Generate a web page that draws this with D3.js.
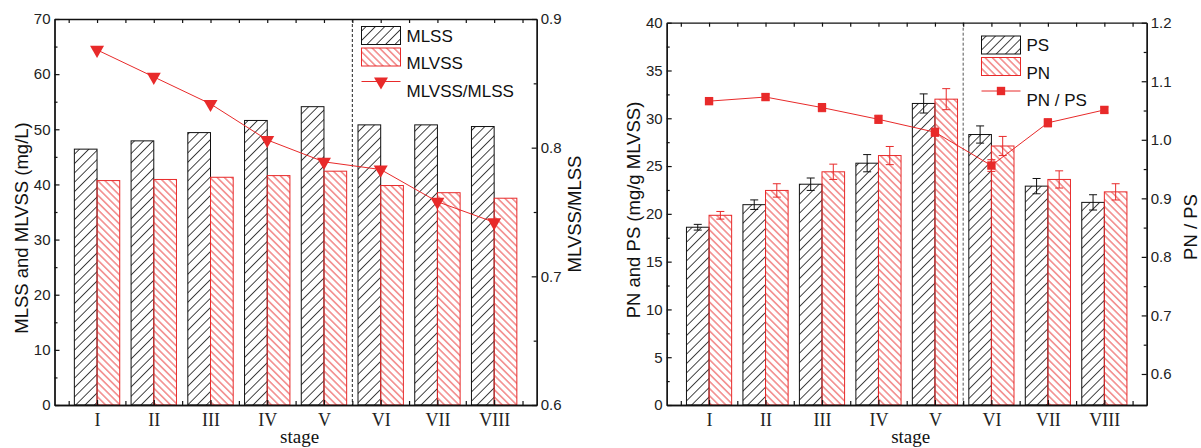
<!DOCTYPE html>
<html>
<head>
<meta charset="utf-8">
<script src="https://cdn.jsdelivr.net/npm/d3@7"></script>
<style>
  body { margin: 0; background: #fff; }
  svg { display: block; }
  .tick text { font-family: "Liberation Sans", Arial, sans-serif; font-size: 15px; fill: #222; }
  .xaxis .tick text { font-family: "Liberation Serif", "Times New Roman", serif; font-size: 18px; }
  .title { font-family: "Liberation Sans", Arial, sans-serif; font-size: 18.5px; fill: #111; }
  .stage { font-family: "Liberation Serif", "Times New Roman", serif; font-size: 19px; fill: #111; }
  .legend text { font-family: "Liberation Sans", Arial, sans-serif; font-size: 17px; fill: #111; }
</style>
</head>
<body>
<script>
// data
const stages = ["I", "II", "III", "IV", "V", "VI", "VII", "VIII"];

const mlss = [46.4, 47.9, 49.4, 51.6, 54.1, 50.8, 50.8, 50.5];
const mlvss = [40.7, 40.9, 41.3, 41.6, 42.4, 39.8, 38.5, 37.5];
const mlvssRatio = [0.876, 0.855, 0.834, 0.806, 0.789, 0.783, 0.758, 0.742];

const ps = [18.6, 20.96, 23.1, 25.3, 31.55, 28.3, 22.9, 21.2];
const psErr = [0.3, 0.5, 0.65, 0.9, 1.0, 0.9, 0.8, 0.8];
const pn = [19.85, 22.45, 24.4, 26.1, 32.0, 27.1, 23.6, 22.3];
const pnErr = [0.4, 0.7, 0.8, 0.95, 1.1, 1.0, 0.9, 0.85];
const pnpsRatio = [1.066, 1.073, 1.055, 1.035, 1.013, 0.956, 1.029, 1.051];
const pnpsErr = [0.004, 0.005, 0.007, 0.007, 0.007, 0.01, 0.007, 0.005];

const leftTicksA = [0, 10, 20, 30, 40, 50, 60, 70];
const rightTicksA = [0.6, 0.7, 0.8, 0.9];
const leftTicksB = [0, 5, 10, 15, 20, 25, 30, 35, 40];
const rightTicksB = [0.6, 0.7, 0.8, 0.9, 1.0, 1.1, 1.2];

const red = "#e82a2a";

const svg = d3.select("body").append("svg")
    .attr("width", 1201)
    .attr("height", 448);

// hatch patterns
const defs = svg.append("defs");
function hatch(id, color, gap, angle, sw) {
    defs.append("pattern")
        .attr("id", id)
        .attr("patternUnits", "userSpaceOnUse")
        .attr("width", gap)
        .attr("height", 10)
        .attr("patternTransform", `rotate(${angle})`)
        .append("line")
        .attr("x1", gap / 2).attr("x2", gap / 2)
        .attr("y1", 0).attr("y2", 10)
        .attr("stroke", color)
        .attr("stroke-width", sw);
}
hatch("hBlack", "#000", 6.6, 45, 0.75);
hatch("hRed", red, 5.1, -45, 0.85);

function panel(cfg) {
    const left = cfg.left, right = cfg.right, top = cfg.top, bottom = 405;
    const g = svg.append("g");

    const x = d3.scaleLinear().domain([0.25, 8.75]).range([left, right]);
    const yL = d3.scaleLinear().domain(cfg.yDomain).range([bottom, top]);
    const yR = d3.scaleLinear().domain(cfg.rDomain).range([bottom, top]);
    const bw = x(1.4) - x(1);
    const idx = d3.range(stages.length);

    // bars
    g.selectAll(".barA").data(idx).join("rect")
        .attr("x", i => x(i + 1) - bw)
        .attr("y", i => yL(cfg.a[i]))
        .attr("width", bw)
        .attr("height", i => bottom - yL(cfg.a[i]))
        .attr("fill", "url(#hBlack)")
        .attr("stroke", "#111")
        .attr("stroke-width", 1);
    g.selectAll(".barB").data(idx).join("rect")
        .attr("x", i => x(i + 1))
        .attr("y", i => yL(cfg.b[i]))
        .attr("width", bw)
        .attr("height", i => bottom - yL(cfg.b[i]))
        .attr("fill", "url(#hRed)")
        .attr("stroke", red)
        .attr("stroke-width", 1);

    // error bars on the bars
    if (cfg.aErr) {
        [[cfg.a, cfg.aErr, "#111", -0.5], [cfg.b, cfg.bErr, red, 0.5]].forEach(([vals, errs, col, off]) => {
            const eg = g.append("g").attr("stroke", col).attr("stroke-width", 1);
            idx.forEach(i => {
                const cx = x(i + 1) + off * bw;
                eg.append("line").attr("x1", cx).attr("x2", cx)
                    .attr("y1", yL(vals[i] - errs[i])).attr("y2", yL(vals[i] + errs[i]));
                [-1, 1].forEach(s => eg.append("line")
                    .attr("x1", cx - 4).attr("x2", cx + 4)
                    .attr("y1", yL(vals[i] + s * errs[i])).attr("y2", yL(vals[i] + s * errs[i])));
            });
        });
    }

    // divider between stage V and VI
    g.append("line")
        .attr("x1", x(5.5)).attr("x2", x(5.5))
        .attr("y1", top).attr("y2", bottom)
        .attr("stroke", cfg.dashColor)
        .attr("stroke-width", 1)
        .attr("stroke-dasharray", "3,2");

    // ratio line
    g.append("path")
        .datum(idx)
        .attr("fill", "none")
        .attr("stroke", red)
        .attr("stroke-width", 1)
        .attr("d", d3.line().x(i => x(i + 1)).y(i => yR(cfg.ratio[i])));

    if (cfg.ratioErr) {
        const eg = g.append("g").attr("stroke", red).attr("stroke-width", 1);
        idx.forEach(i => {
            const cx = x(i + 1), v = cfg.ratio[i], e = cfg.ratioErr[i];
            eg.append("line").attr("x1", cx).attr("x2", cx).attr("y1", yR(v - e)).attr("y2", yR(v + e));
            [-1, 1].forEach(s => eg.append("line")
                .attr("x1", cx - 4).attr("x2", cx + 4)
                .attr("y1", yR(v + s * e)).attr("y2", yR(v + s * e)));
        });
    }

    const sym = d3.symbol().type(cfg.marker === "tri" ? d3.symbolTriangle : d3.symbolSquare)
        .size(cfg.marker === "tri" ? 85 : 70);
    g.selectAll(".mk").data(idx).join("path")
        .attr("d", sym)
        .attr("transform", i => `translate(${x(i + 1)},${yR(cfg.ratio[i])})` + (cfg.marker === "tri" ? " rotate(180)" : ""))
        .attr("fill", red);

    // axes
    const axisStyle = sel => {
        sel.selectAll("path.domain").attr("stroke", "#111").attr("stroke-width", 1.3);
        sel.selectAll("line").attr("stroke", "#111").attr("stroke-width", 1.2);
    };
    g.append("g").attr("class", "xaxis").attr("transform", `translate(0,${bottom})`)
        .call(d3.axisBottom(x).tickValues(d3.range(1, 9)).tickFormat(i => stages[i - 1])
            .tickSize(-5).tickSizeOuter(0).tickPadding(8))
        .call(axisStyle);
    g.append("g").attr("transform", `translate(0,${bottom})`)
        .call(d3.axisBottom(x).tickValues(d3.range(0.5, 9, 1)).tickFormat("")
            .tickSize(-4).tickSizeOuter(0))
        .call(axisStyle);
    g.append("g").attr("transform", `translate(0,${top})`)
        .call(d3.axisTop(x).tickValues(d3.range(0.5, 9, 0.5)).tickFormat("")
            .tickSize(-4).tickSizeOuter(0))
        .call(axisStyle);

    g.append("g").attr("transform", `translate(${left},0)`)
        .call(d3.axisLeft(yL).tickValues(cfg.leftTicks).tickSize(-5).tickSizeOuter(0).tickPadding(4))
        .call(axisStyle);
    const stepL = cfg.leftTicks[1] - cfg.leftTicks[0];
    g.append("g").attr("transform", `translate(${left},0)`)
        .call(d3.axisLeft(yL).tickValues(cfg.leftTicks.slice(1).map(v => v - stepL / 2))
            .tickFormat("").tickSize(-3).tickSizeOuter(0))
        .call(axisStyle);

    g.append("g").attr("transform", `translate(${right},0)`)
        .call(d3.axisRight(yR).tickValues(cfg.rightTicks).tickFormat(d3.format(".1f"))
            .tickSize(-5).tickSizeOuter(0).tickPadding(4))
        .call(axisStyle);
    g.append("g").attr("transform", `translate(${right},0)`)
        .call(d3.axisRight(yR).tickValues(cfg.rightTicks.map(v => v + 0.05).filter(v => v < cfg.rDomain[1]))
            .tickFormat("").tickSize(-3).tickSizeOuter(0))
        .call(axisStyle);

    // titles
    g.append("text").attr("class", "title")
        .attr("transform", `translate(${cfg.ltX},${cfg.ltY}) rotate(-90)`)
        .attr("text-anchor", "middle").attr("dy", "0.35em")
        .text(cfg.leftTitle);
    g.append("text").attr("class", "title")
        .attr("transform", `translate(${cfg.rtX},${cfg.rtY}) rotate(-90)`)
        .attr("text-anchor", "middle").attr("dy", "0.35em")
        .text(cfg.rightTitle);
    g.append("text").attr("class", "stage")
        .attr("x", (left + right) / 2 + 4).attr("y", 442.5)
        .attr("text-anchor", "middle")
        .text("stage");

    // legend
    const lg = g.append("g").attr("class", "legend")
        .attr("transform", `translate(${cfg.legX},${cfg.legY})`);
    lg.append("rect").attr("x", 0).attr("y", 0).attr("width", 39).attr("height", 18)
        .attr("fill", "url(#hBlack)").attr("stroke", "#111");
    lg.append("rect").attr("x", 0).attr("y", 21.5).attr("width", 39).attr("height", 18)
        .attr("fill", "url(#hRed)").attr("stroke", red);
    lg.append("line").attr("x1", 0).attr("x2", 39).attr("y1", 55).attr("y2", 55)
        .attr("stroke", red);
    lg.append("path").attr("d", sym)
        .attr("transform", "translate(19.5,55)" + (cfg.marker === "tri" ? " rotate(180)" : ""))
        .attr("fill", red);
    cfg.legend.forEach((t, k) => lg.append("text")
        .attr("x", 45).attr("y", 9 + k * 27.5).attr("dy", "0.36em").text(t));
}

panel({
    left: 54.5, right: 536.7, top: 19,
    yDomain: [0, 70], rDomain: [0.6, 0.9],
    leftTicks: leftTicksA, rightTicks: rightTicksA,
    a: mlss, b: mlvss, ratio: mlvssRatio, marker: "tri",
    dashColor: "#222",
    leftTitle: "MLSS and MLVSS (mg/L)", ltX: 21.5, ltY: 228,
    rightTitle: "MLVSS/MLSS", rtX: 575, rtY: 214,
    legX: 361.5, legY: 26.5,
    legend: ["MLSS", "MLVSS", "MLVSS/MLSS"]
});

panel({
    left: 666.7, right: 1146.7, top: 22.7,
    yDomain: [0, 40], rDomain: [0.547, 1.2],
    leftTicks: leftTicksB, rightTicks: rightTicksB,
    a: ps, b: pn, aErr: psErr, bErr: pnErr,
    ratio: pnpsRatio, ratioErr: pnpsErr, marker: "sq",
    dashColor: "#555",
    leftTitle: "PN and PS (mg/g MLVSS)", ltX: 633.5, ltY: 210,
    rightTitle: "PN / PS", rtX: 1190.5, rtY: 227,
    legX: 981.5, legY: 36,
    legend: ["PS", "PN", "PN / PS"]
});
</script>
</body>
</html>
